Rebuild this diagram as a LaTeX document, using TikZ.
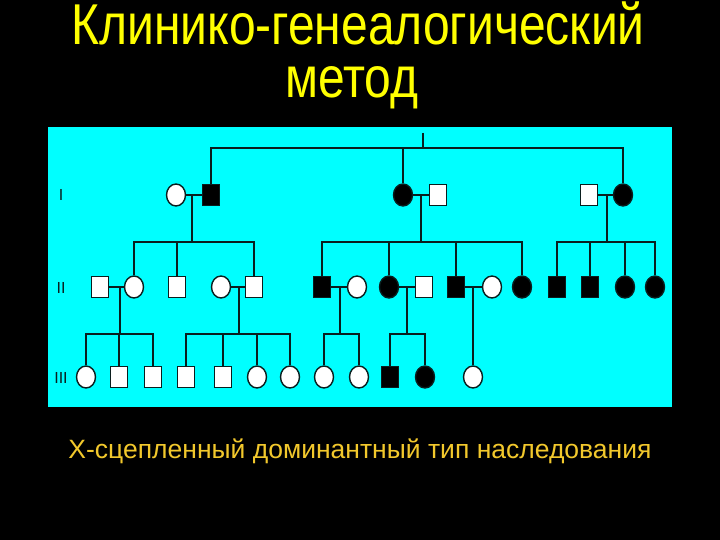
\documentclass[tikz,border=0pt]{standalone}
\usepackage{fontspec}
\usepackage{graphicx}
\setmainfont{Liberation Sans}
\usetikzlibrary{shapes.geometric,calc}
\definecolor{chartbg}{HTML}{00FFFF}
\definecolor{titleyel}{HTML}{FFFF00}
\definecolor{capgold}{HTML}{F2C82C}
\definecolor{ink}{HTML}{0A1E1E}

\begin{document}
\begin{tikzpicture}[x=1pt,y=-1pt,
  link/.style={draw=ink,line width=1.6pt},
  male/.style={draw=ink,line width=1.4pt,fill=white,minimum width=17pt,minimum height=21pt,inner sep=0pt},
  maleaff/.style={male,fill=black},
  female/.style={ellipse,draw=ink,line width=1.4pt,fill=white,minimum width=19pt,minimum height=22pt,inner sep=0pt},
  femaleaff/.style={female,fill=black},
  gen/.style={font=\fontsize{16}{16}\selectfont,text=ink,inner sep=0pt}]
  \useasboundingbox (0,0) rectangle (720,540);
  \fill[black] (0,0) rectangle (720,540);
  \fill[chartbg] (48,127) rectangle (672,407);

  \node[anchor=base,text=titleyel,font=\fontsize{48}{56}\selectfont,inner sep=0pt] (title) at (358,45) {\scalebox{1}[1.2]{Клинико-генеалогический}};
  \node[anchor=base,text=titleyel,font=\fontsize{48}{56}\selectfont,inner sep=0pt] (title2) at (352,98) {\scalebox{1}[1.2]{метод}};
  \node[anchor=base,text=capgold,font=\fontsize{26.5}{30}\selectfont,inner sep=0pt] (caption) at (360,458) {Х-сцепленный доминантный тип наследования};

  \node[gen] (g1) at (61,195) {I};
  \node[gen] (g2) at (61,288) {II};
  \node[gen] (g3) at (61,378) {III};

  % generation I
  \node[female] (w1) at (176,195) {};
  \node[maleaff] (h1) at (211,195) {};
  \node[femaleaff] (w2) at (403,195) {};
  \node[male] (h2) at (438,195) {};
  \node[male] (h3) at (589,195) {};
  \node[femaleaff] (w3) at (623,195) {};

  % generation II
  \node[male] (p1) at (100,287) {};
  \node[female] (a1) at (134,287) {};
  \node[male] (a2) at (177,287) {};
  \node[female] (p2) at (221,287) {};
  \node[male] (a3) at (254,287) {};
  \node[maleaff] (b1) at (322,287) {};
  \node[female] (p3) at (357,287) {};
  \node[femaleaff] (b2) at (389,287) {};
  \node[male] (p4) at (424,287) {};
  \node[maleaff] (b3) at (456,287) {};
  \node[female] (p5) at (492,287) {};
  \node[femaleaff] (b4) at (522,287) {};
  \node[maleaff] (c1) at (557,287) {};
  \node[maleaff] (c2) at (590,287) {};
  \node[femaleaff] (c3) at (625,287) {};
  \node[femaleaff] (c4) at (655,287) {};

  % generation III
  \node[female] (d1) at (86,377) {};
  \node[male] (d2) at (119,377) {};
  \node[male] (d3) at (153,377) {};
  \node[male] (e1) at (186,377) {};
  \node[male] (e2) at (223,377) {};
  \node[female] (e3) at (257,377) {};
  \node[female] (e4) at (290,377) {};
  \node[female] (f1) at (324,377) {};
  \node[female] (f2) at (359,377) {};
  \node[maleaff] (m1) at (390,377) {};
  \node[femaleaff] (m2) at (425,377) {};
  \node[female] (j1) at (473,377) {};

  \coordinate (root) at (423,148);
  \coordinate (rootup) at (423,133);
  \coordinate (k1) at (192,242);
  \coordinate (k2) at (421,242);
  \coordinate (k3) at (607,242);
  \coordinate (k4) at (120,334);
  \coordinate (k5) at (239,334);
  \coordinate (k6) at (340,334);
  \coordinate (k7) at (407,334);

  \draw[link] (rootup) -- (root);
  \draw[link] (h1.north) |- (root) -| (w3.north);
  \draw[link] (w2.north) -- (w2 |- root);

  \draw[link] (w1) -- (h1);
  \draw[link] (w2) -- (h2);
  \draw[link] (h3) -- (w3);
  \draw[link] (k1) -- (k1 |- h1);
  \draw[link] (k2) -- (k2 |- h2);
  \draw[link] (k3) -- (k3 |- h3);

  \draw[link] (a1.north) |- (k1) -| (a3.north);
  \draw[link] (a2.north) -- (a2 |- k1);
  \draw[link] (b1.north) |- (k2) -| (b4.north);
  \draw[link] (b2.north) -- (b2 |- k2);
  \draw[link] (b3.north) -- (b3 |- k2);
  \draw[link] (c1.north) |- (k3) -| (c4.north);
  \draw[link] (c2.north) -- (c2 |- k3);
  \draw[link] (c3.north) -- (c3 |- k3);

  \draw[link] (p1) -- (a1);
  \draw[link] (p2) -- (a3);
  \draw[link] (b1) -- (p3);
  \draw[link] (b2) -- (p4);
  \draw[link] (b3) -- (p5);
  \draw[link] (k4) -- (k4 |- a1);
  \draw[link] (k5) -- (k5 |- a3);
  \draw[link] (k6) -- (k6 |- b1);
  \draw[link] (k7) -- (k7 |- b2);

  \draw[link] (d1.north) |- (k4) -| (d3.north);
  \draw[link] (d2.north) -- (d2 |- k4);
  \draw[link] (e1.north) |- (k5) -| (e4.north);
  \draw[link] (e2.north) -- (e2 |- k5);
  \draw[link] (e3.north) -- (e3 |- k5);
  \draw[link] (f1.north) |- (k6) -| (f2.north);
  \draw[link] (m1.north) |- (k7) -| (m2.north);
  \draw[link] (j1.north) -- (j1 |- b3);
\end{tikzpicture}
\end{document}
